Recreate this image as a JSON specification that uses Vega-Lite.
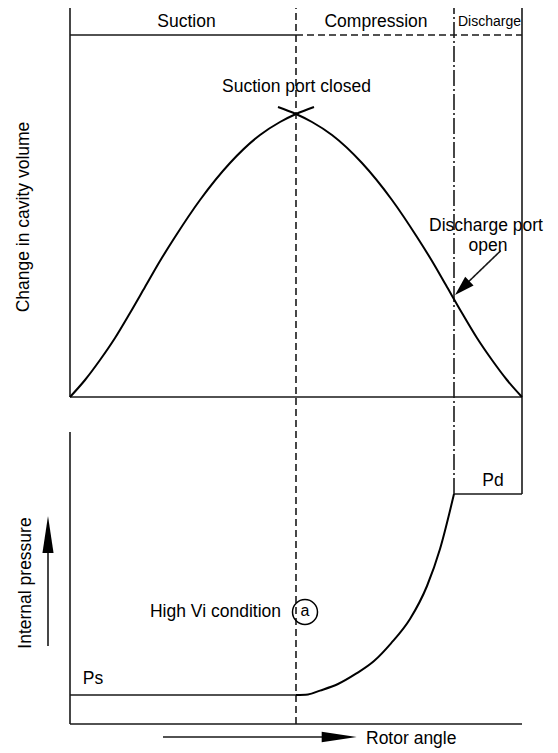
{
  "$schema": "https://vega.github.io/schema/vega-lite/v6.json",
  "width": 452,
  "height": 716,
  "autosize": {"type": "none"},
  "padding": {"left": 70, "top": 8, "right": 36, "bottom": 29},
  "background": "white",
  "config": {"view": {"stroke": null}},
  "datasets": {
    "rules": [
      {"x": 0, "x2": 0, "y": 327, "y2": 716, "style": "solid"},
      {"x": 0, "x2": 452, "y": 327, "y2": 327, "style": "solid"},
      {"x": 0, "x2": 226, "y": 689, "y2": 689, "style": "solid"},
      {"x": 452, "x2": 452, "y": 230, "y2": 716, "style": "solid"},
      {"x": 384, "x2": 452, "y": 230, "y2": 230, "style": "solid"},
      {"x": 0, "x2": 0, "y": 0, "y2": 292, "style": "solid"},
      {"x": 0, "x2": 452, "y": 0, "y2": 0, "style": "solid"},
      {"x": 0, "x2": 226, "y": 29, "y2": 29, "style": "solid"},
      {"x": 93, "x2": 262, "y": -13, "y2": -13, "style": "solid"},
      {"x": -22, "x2": -22, "y": 78, "y2": 180, "style": "solid"},
      {"x": 430.7, "x2": 392, "y": 473.3, "y2": 436, "style": "solid"},
      {"x": 226, "x2": 452, "y": 689, "y2": 689, "style": "dashed"},
      {"x": 226, "x2": 226, "y": 0, "y2": 716, "style": "dashed"},
      {"x": 384, "x2": 384, "y": 230, "y2": 716, "style": "dashdot"}
    ],
    "curves": [
      {"curve": "suction volume", "x": 0, "y": 327},
      {"curve": "suction volume", "x": 15, "y": 344},
      {"curve": "suction volume", "x": 30, "y": 364},
      {"curve": "suction volume", "x": 45, "y": 386},
      {"curve": "suction volume", "x": 60, "y": 411},
      {"curve": "suction volume", "x": 75, "y": 437},
      {"curve": "suction volume", "x": 90, "y": 463},
      {"curve": "suction volume", "x": 105, "y": 487},
      {"curve": "suction volume", "x": 130, "y": 524},
      {"curve": "suction volume", "x": 160, "y": 561},
      {"curve": "suction volume", "x": 190, "y": 589},
      {"curve": "suction volume", "x": 210, "y": 602},
      {"curve": "suction volume", "x": 226, "y": 610},
      {"curve": "suction volume", "x": 244, "y": 617},
      {"curve": "compression volume", "x": 208, "y": 617},
      {"curve": "compression volume", "x": 226, "y": 610},
      {"curve": "compression volume", "x": 242, "y": 602},
      {"curve": "compression volume", "x": 262, "y": 589},
      {"curve": "compression volume", "x": 292, "y": 561},
      {"curve": "compression volume", "x": 322, "y": 524},
      {"curve": "compression volume", "x": 347, "y": 487},
      {"curve": "compression volume", "x": 362, "y": 463},
      {"curve": "compression volume", "x": 377, "y": 437},
      {"curve": "compression volume", "x": 392, "y": 411},
      {"curve": "compression volume", "x": 407, "y": 386},
      {"curve": "compression volume", "x": 422, "y": 364},
      {"curve": "compression volume", "x": 437, "y": 344},
      {"curve": "compression volume", "x": 452, "y": 327},
      {"curve": "pressure", "x": 226, "y": 29},
      {"curve": "pressure", "x": 238, "y": 29.6},
      {"curve": "pressure", "x": 250, "y": 33.4},
      {"curve": "pressure", "x": 268, "y": 40},
      {"curve": "pressure", "x": 286, "y": 50.3},
      {"curve": "pressure", "x": 304, "y": 63},
      {"curve": "pressure", "x": 321, "y": 80.7},
      {"curve": "pressure", "x": 340, "y": 105},
      {"curve": "pressure", "x": 357, "y": 138},
      {"curve": "pressure", "x": 370, "y": 175},
      {"curve": "pressure", "x": 384, "y": 230}
    ],
    "labels": [
      {"x": 116.5, "y": 702, "text": "Suction"},
      {"x": 306, "y": 702, "text": "Compression"},
      {"x": 226.5, "y": 637, "text": "Suction port closed"},
      {"x": 416, "y": 498, "text": "Discharge port"},
      {"x": 418, "y": 478, "text": "open"},
      {"x": 423, "y": 243, "text": "Pd"},
      {"x": 23, "y": 45, "text": "Ps"}
    ],
    "smalllabels": [{"x": 419.5, "y": 702, "text": "Discharge"}],
    "leftlabels": [{"x": 296, "y": -15, "text": "Rotor angle"}],
    "rightlabels": [{"x": 211, "y": 112, "text": "High Vi condition"}],
    "marker": [{"x": 235, "y": 112, "text": "a"}],
    "axistitles": [
      {"x": -46, "y": 507, "text": "Change in cavity volume"},
      {"x": -44.5, "y": 141, "text": "Internal pressure"}
    ],
    "headright": [{"x": 286.7, "y": -13}],
    "headup": [{"x": -22, "y": 208}],
    "headdiag": [{"x": 385, "y": 429}]
  },
  "encoding": {
    "x": {"field": "x", "type": "quantitative", "scale": {"domain": [0, 452]}, "axis": null},
    "y": {"field": "y", "type": "quantitative", "scale": {"domain": [0, 716]}, "axis": null}
  },
  "layer": [
    {
      "data": {"name": "rules"},
      "mark": {"type": "rule", "strokeWidth": 1.6, "color": "#1a1a1a"},
      "encoding": {
        "x2": {"field": "x2"},
        "y2": {"field": "y2"},
        "strokeDash": {
          "field": "style",
          "type": "nominal",
          "scale": {"domain": ["solid", "dashed", "dashdot"], "range": [[1, 0], [7, 4], [16, 3, 2, 3]]},
          "legend": null
        }
      }
    },
    {
      "data": {"name": "curves"},
      "mark": {"type": "line", "interpolate": "monotone", "strokeWidth": 2, "color": "black"},
      "encoding": {"detail": {"field": "curve", "type": "nominal"}}
    },
    {
      "data": {"name": "labels"},
      "mark": {"type": "text", "font": "Liberation Sans", "fontSize": 17.5, "align": "center", "baseline": "middle", "color": "black"},
      "encoding": {"text": {"field": "text"}}
    },
    {
      "data": {"name": "smalllabels"},
      "mark": {"type": "text", "font": "Liberation Sans", "fontSize": 14, "align": "center", "baseline": "middle", "color": "black"},
      "encoding": {"text": {"field": "text"}}
    },
    {
      "data": {"name": "leftlabels"},
      "mark": {"type": "text", "font": "Liberation Sans", "fontSize": 17.5, "align": "left", "baseline": "middle", "color": "black"},
      "encoding": {"text": {"field": "text"}}
    },
    {
      "data": {"name": "rightlabels"},
      "mark": {"type": "text", "font": "Liberation Sans", "fontSize": 17.5, "align": "right", "baseline": "middle", "color": "black"},
      "encoding": {"text": {"field": "text"}}
    },
    {
      "data": {"name": "marker"},
      "mark": {"type": "point", "shape": "circle", "size": 625, "filled": false, "strokeWidth": 1.5, "color": "black", "opacity": 1}
    },
    {
      "data": {"name": "marker"},
      "mark": {"type": "text", "font": "Liberation Sans", "fontSize": 16, "align": "center", "baseline": "middle", "color": "black", "dy": -1},
      "encoding": {"text": {"field": "text"}}
    },
    {
      "data": {"name": "axistitles"},
      "mark": {"type": "text", "font": "Liberation Sans", "fontSize": 17.5, "align": "center", "baseline": "middle", "angle": 270, "color": "black"},
      "encoding": {"text": {"field": "text"}}
    },
    {
      "data": {"name": "headright"},
      "mark": {"type": "point", "shape": "M0,0L-2,-0.3L-2,0.3Z", "size": 1225, "filled": true, "color": "black", "opacity": 1, "strokeWidth": 0}
    },
    {
      "data": {"name": "headup"},
      "mark": {"type": "point", "shape": "M0,0L-0.3,2L0.3,2Z", "size": 1369, "filled": true, "color": "black", "opacity": 1, "strokeWidth": 0}
    },
    {
      "data": {"name": "headdiag"},
      "mark": {"type": "point", "shape": "M0,0L-2,-0.6L-2,0.6Z", "size": 400, "angle": 136, "filled": true, "color": "black", "opacity": 1, "strokeWidth": 0}
    }
  ]
}
